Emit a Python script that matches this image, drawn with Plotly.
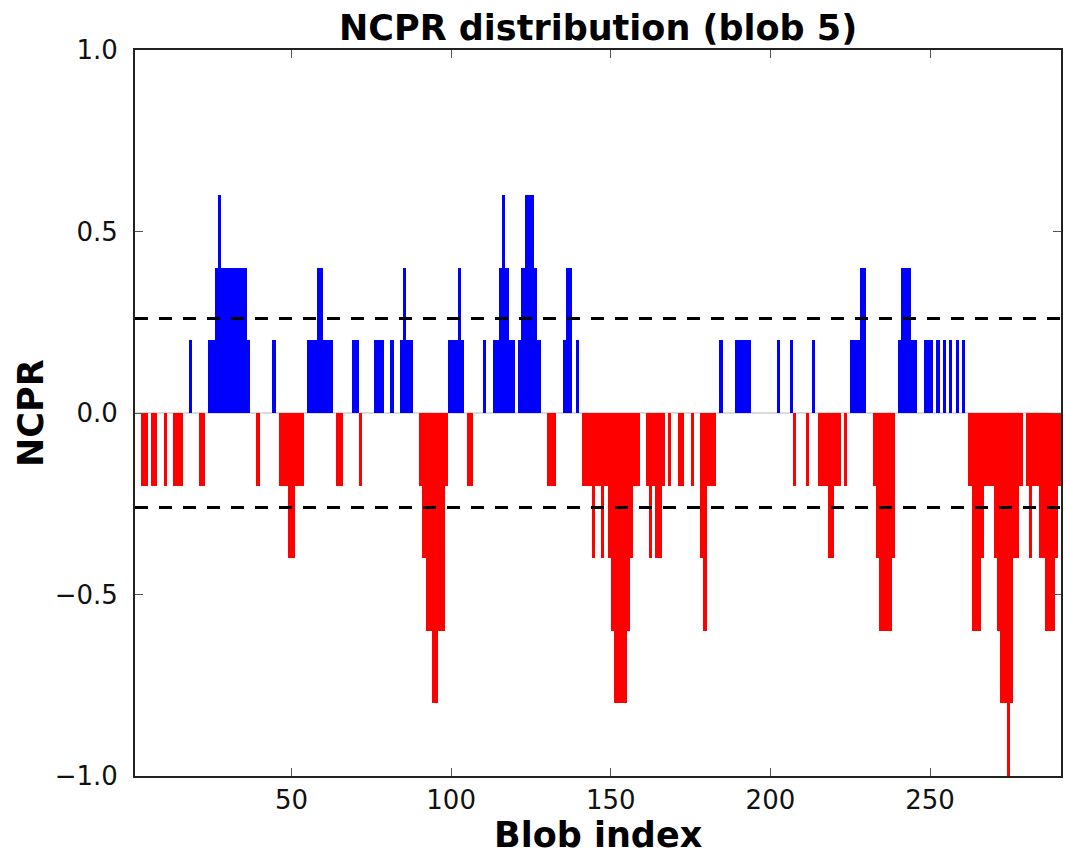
import plotly.graph_objects as go

# NCPR value of each blob (blob index 1..290)
ncpr_values = [
    0, 0, -0.2, -0.2, 0, -0.2, -0.2, 0, 0, -0.2,
    0, 0, -0.2, -0.2, -0.2, 0, 0, 0.2, 0, 0,
    -0.2, -0.2, 0, 0.2, 0.2, 0.4, 0.6, 0.4, 0.4, 0.4,
    0.4, 0.4, 0.4, 0.4, 0.4, 0.2, 0, 0, -0.2, 0,
    0, 0, 0, 0.2, 0, -0.2, -0.2, -0.2, -0.4, -0.4,
    -0.2, -0.2, -0.2, 0, 0.2, 0.2, 0.2, 0.4, 0.4, 0.2,
    0.2, 0.2, 0, -0.2, -0.2, 0, 0, 0, 0.2, 0.2,
    -0.2, 0, 0, 0, 0, 0.2, 0.2, 0.2, 0, 0,
    0.2, 0, 0, 0.2, 0.4, 0.2, 0.2, 0, 0, -0.2,
    -0.4, -0.6, -0.6, -0.8, -0.8, -0.6, -0.6, -0.2, 0.2, 0.2,
    0.2, 0.4, 0.2, 0, -0.2, -0.2, 0, 0, 0, 0.2,
    0, 0, 0.2, 0.2, 0.4, 0.6, 0.4, 0.2, 0.2, 0,
    0.2, 0.4, 0.6, 0.6, 0.6, 0.4, 0.2, 0, 0, -0.2,
    -0.2, -0.2, 0, 0, 0.2, 0.4, 0.4, 0, 0.2, 0,
    -0.2, -0.2, -0.2, -0.4, -0.2, -0.2, -0.4, -0.2, -0.4, -0.6,
    -0.8, -0.8, -0.8, -0.8, -0.6, -0.4, -0.2, -0.2, 0, 0,
    -0.2, -0.4, -0.2, -0.4, -0.4, -0.2, 0, -0.2, 0, 0,
    -0.2, -0.2, 0, 0, -0.2, 0, 0, -0.4, -0.6, -0.2,
    -0.2, -0.2, 0, 0.2, 0, 0, 0, 0, 0.2, 0.2,
    0.2, 0.2, 0.2, 0, 0, 0, 0, 0, 0, 0,
    0, 0.2, 0, 0, 0, 0.2, -0.2, 0, 0, 0,
    -0.2, 0, 0.2, 0, -0.2, -0.2, -0.2, -0.4, -0.4, -0.2,
    -0.2, 0, -0.2, 0, 0.2, 0.2, 0.2, 0.4, 0.4, 0,
    0, -0.2, -0.4, -0.6, -0.6, -0.6, -0.6, -0.4, 0, 0.2,
    0.4, 0.4, 0.4, 0.2, 0.2, 0, 0, 0.2, 0.2, 0.2,
    0, 0.2, 0, 0.2, 0, 0.2, 0, 0.2, 0, 0.2,
    0, -0.2, -0.6, -0.6, -0.6, -0.4, -0.2, -0.2, -0.2, -0.4,
    -0.6, -0.8, -0.8, -1.0, -0.8, -0.4, -0.4, -0.2, 0, -0.2,
    -0.4, -0.2, -0.2, -0.4, -0.4, -0.6, -0.6, -0.6, -0.4, -0.2,
]
blob_index = list(range(1, len(ncpr_values) + 1))
thresholds = [0.26, -0.26]
x_tick_vals = [50, 100, 150, 200, 250]
y_tick_vals = [-1.0, -0.5, 0.0, 0.5, 1.0]
x_range = [1, len(ncpr_values) + 1]
y_range = [-1.0, 1.0]

POS_COLOR = "#0000ff"
NEG_COLOR = "#ff0000"
colors = [POS_COLOR if v > 0 else NEG_COLOR for v in ncpr_values]

FONT = "DejaVu Sans"

fig = go.Figure()

# faint baseline drawn by zero-height bars
fig.add_shape(type="line", xref="x", yref="y", x0=x_range[0], x1=x_range[1],
              y0=0, y1=0, line=dict(color="#cfcfcf", width=1.5), layer="below")

fig.add_trace(go.Bar(
    x=blob_index, y=ncpr_values, width=1, offset=0,
    marker=dict(color=colors, line=dict(width=0)),
    showlegend=False, hoverinfo="x+y",
))

for t in thresholds:
    fig.add_hline(y=t, line=dict(color="black", width=3, dash="13px,11px"), layer="above")

axis_common = dict(
    showgrid=False, zeroline=False, showline=True, linecolor="#222222", linewidth=2,
    mirror="ticks", ticks="inside", ticklen=8, tickwidth=1.3, tickcolor="#555555",
    tickfont=dict(family=FONT, size=26, color="#111111"),
)

fig.update_xaxes(range=x_range, tickvals=x_tick_vals, ticklabelstandoff=0, **axis_common)
fig.update_yaxes(range=y_range, tickvals=y_tick_vals, tickformat=".1f",
                 ticklabelstandoff=10, **axis_common)

fig.update_layout(
    width=1065, height=857,
    margin=dict(l=135, r=2, t=50, b=81),
    paper_bgcolor="white", plot_bgcolor="white",
    bargap=0,
    annotations=[
        dict(text="<b>NCPR distribution (blob 5)</b>", xref="paper", yref="paper",
             x=0.5, y=1, xanchor="center", yanchor="bottom", yshift=0, showarrow=False,
             font=dict(family=FONT, size=35, color="black")),
        dict(text="<b>Blob index</b>", xref="paper", yref="paper",
             x=0.5, y=0, xanchor="center", yanchor="top", yshift=-37, showarrow=False,
             font=dict(family=FONT, size=35, color="black")),
        dict(text="<b>NCPR</b>", xref="paper", yref="paper",
             x=0, y=0.5, xanchor="center", yanchor="middle", xshift=-104, textangle=-90,
             showarrow=False, font=dict(family=FONT, size=35, color="black")),
    ],
)

fig.write_html("out.html")
